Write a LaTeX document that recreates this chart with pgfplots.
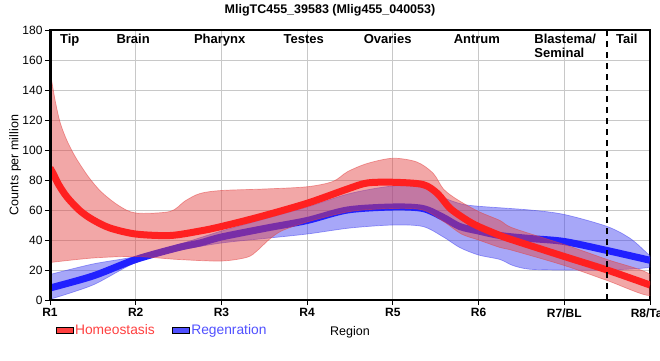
\documentclass[border=0pt]{standalone}
\usepackage{pgfplots}
\pgfplotsset{compat=1.18}
\usepackage{fontspec}
\setmainfont{Liberation Sans}
\definecolor{rline}{RGB}{255,32,32}
\definecolor{bline}{RGB}{32,32,255}
\definecolor{rband}{RGB}{227,64,64}
\definecolor{bband}{RGB}{64,64,240}
\definecolor{gridc}{RGB}{200,200,200}
\definecolor{rleg}{RGB}{255,64,64}
\definecolor{bleg}{RGB}{80,80,255}
\begin{document}
\begin{tikzpicture}
\useasboundingbox (0pt,0pt) rectangle (660pt,360pt);
\clip (0pt,0pt) rectangle (660pt,360pt);
\node[font=\bfseries\fontsize{12.5}{14}\selectfont, anchor=base] at (330pt,346.7pt) {MligTC455\_39583 (Mlig455\_040053)};
\begin{axis}[
  at={(50pt,60pt)}, anchor=south west,
  width=600pt, height=270pt, scale only axis,
  xmin=1, xmax=8, ymin=0, ymax=180,
  xtick={1,2,3,4,5,6,7,8},
  xticklabels={R1,R2,R3,R4,R5,R6,R7/BL,R8/Tail},
  ytick={0,20,40,60,80,100,120,140,160,180},
  xtick pos=bottom, ytick pos=left,
  tick align=outside, major tick length=5pt,
  tick style={black, line width=1pt},
  grid=major, major grid style={gridc, line width=1pt},
  axis line style={black, line width=1.2pt},
  /pgf/number format/assume math mode=true,
  yticklabel style={font=\fontsize{12}{14}\selectfont, xshift=1pt},
  xticklabel style={font=\bfseries\fontsize{12}{14}\selectfont},
  xlabel={Region}, ylabel={Counts per million},
  xlabel style={at={(axis description cs:0.5,-0.133)}, anchor=base, font=\fontsize{12.5}{14}\selectfont},
  ylabel style={at={(axis description cs:-0.058,0.5)}, anchor=center, font=\fontsize{12.5}{14}\selectfont},
  legend style={at={(axis description cs:0.004,-0.111)}, anchor=west, draw=none, fill=none,
    legend columns=2, font=\fontsize{13.8}{15}\selectfont,
    /tikz/every even column/.append style={column sep=15pt}},
  legend image code/.code={\fill (0pt,-3.4pt) rectangle (15pt,3.4pt);},
]
% Regeneration band
\addplot[smooth, fill=bband, fill opacity=0.46, draw=bband, draw opacity=0.5, line width=0.7pt, forget plot] coordinates {
(1.0,17) (1.5,24) (2.0,29) (2.5,37) (3.0,46) (3.5,54) (4.0,62) (4.5,71) (5.0,76) (5.35,75) (5.6,68) (5.8,64) (6.0,62.5) (6.6,60) (7.0,57) (7.5,49) (7.77,41) (7.97,31) (8.0,29)
(8.0,22) (7.5,20) (7.0,20) (6.6,20.5) (6.4,23) (6.25,27) (6.0,30) (5.78,35) (5.59,42) (5.35,49) (5.0,50) (4.5,48) (4.0,44) (3.5,41) (3.0,38) (2.5,33) (2.0,25) (1.5,10) (1.0,0.5)
};
% Regeneration line
\addplot[smooth, bline, line width=7pt, forget plot] coordinates {
(1.0,8) (1.5,16) (2.0,27) (2.5,35) (2.75,38) (3.0,42) (3.53,48) (4.0,53) (4.47,60) (5.0,62) (5.35,61) (5.59,55) (5.78,49) (6.0,46) (6.25,43) (6.6,41) (7.0,39) (7.5,33) (8.0,26.5)
};
% Homeostasis band
\addplot[smooth, fill=rband, fill opacity=0.46, draw=rband, draw opacity=0.5, line width=0.7pt, forget plot] coordinates {
(1.0,153) (1.06,133) (1.12,118) (1.2,106) (1.3,95) (1.45,82) (1.6,72) (1.8,63) (2.0,58) (2.4,59) (2.575,66) (2.75,71) (3.0,73) (3.5,74) (4.0,75.5) (4.3,79) (4.47,85.5) (4.7,91) (5.0,94.5) (5.28,92) (5.47,84.5) (5.59,74) (5.75,67) (6.0,59) (6.25,53) (6.4,48) (7.0,37) (7.5,27) (8.0,17)
(8.0,3) (7.5,13) (7.0,23) (6.4,33) (6.25,35) (6.0,40) (5.8,44) (5.6,52) (5.35,60) (5.0,61) (4.5,59) (4.0,52) (3.7,46) (3.55,40) (3.42,33) (3.3,28.5) (3.0,26) (2.5,27) (2.0,29) (1.5,28) (1.0,25)
};
% Homeostasis line
\addplot[smooth, rline, line width=7pt, forget plot] coordinates {
(1.0,88) (1.04,84) (1.1,77) (1.2,68.5) (1.35,59.5) (1.5,53.5) (1.7,48) (2.0,44) (2.4,43) (2.75,46) (3.0,49) (3.45,55.5) (4.0,64.5) (4.47,74) (4.7,78) (5.0,78.5) (5.35,77) (5.52,71) (5.67,61) (5.87,53) (6.0,49) (6.25,43) (6.4,40) (7.0,29) (7.5,20) (8.0,10)
};
\draw[black, line width=2.5pt, dash pattern=on 6pt off 5pt] (axis cs:7.5,0) -- (axis cs:7.5,180);
\draw[black, line width=3pt] (rel axis cs:0,1) -- (rel axis cs:0,0) -- (rel axis cs:1,0);
\addlegendimage{area legend, fill=rleg, draw=none}
\addlegendentry{\textcolor{rleg}{Homeostasis}}
\addlegendimage{area legend, fill=bleg, draw=none}
\addlegendentry{\textcolor{bleg}{Regenration}}
\begin{scope}[every node/.style={font=\bfseries\fontsize{13}{15}\selectfont}]
\node[anchor=base] at (axis cs:1.23,171) {Tip};
\node[anchor=base] at (axis cs:1.97,171) {Brain};
\node[anchor=base] at (axis cs:2.98,171) {Pharynx};
\node[anchor=base] at (axis cs:3.96,171) {Testes};
\node[anchor=base] at (axis cs:4.94,171) {Ovaries};
\node[anchor=base] at (axis cs:5.98,171) {Antrum};
\node[anchor=base west, inner xsep=0pt] at (axis cs:6.65,171) {Blastema/};
\node[anchor=base west, inner xsep=0pt] at (axis cs:6.65,161.7) {Seminal};
\node[anchor=base] at (axis cs:7.73,171) {Tail};
\end{scope}
\end{axis}
\end{tikzpicture}
\end{document}
